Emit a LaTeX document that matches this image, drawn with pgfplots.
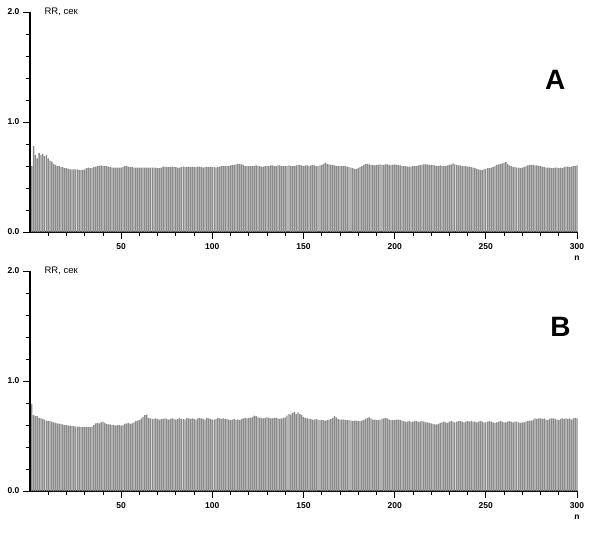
\documentclass[border=0pt]{standalone}
\usepackage{fontspec}
\setmainfont{Liberation Sans}
\usepackage{pgfplots}
\usepackage{pgfplotstable}
\pgfplotsset{compat=1.18}

% RR intervals, one value per beat, n = 1..300
\pgfplotstableread[row sep=\\]{rr\\
0.60\\ 0.78\\ 0.70\\ 0.67\\ 0.72\\ 0.70\\ 0.71\\ 0.69\\ 0.70\\ 0.67\\
0.65\\ 0.64\\ 0.62\\ 0.61\\ 0.60\\ 0.60\\ 0.59\\ 0.59\\ 0.58\\ 0.58\\
0.575\\ 0.57\\ 0.57\\ 0.57\\ 0.57\\ 0.57\\ 0.565\\ 0.565\\ 0.565\\ 0.57\\
0.58\\ 0.585\\ 0.58\\ 0.58\\ 0.59\\ 0.595\\ 0.60\\ 0.60\\ 0.605\\ 0.60\\
0.60\\ 0.60\\ 0.595\\ 0.59\\ 0.585\\ 0.585\\ 0.585\\ 0.585\\ 0.585\\ 0.585\\
0.59\\ 0.60\\ 0.60\\ 0.595\\ 0.59\\ 0.59\\ 0.585\\ 0.585\\ 0.585\\ 0.585\\
0.585\\ 0.585\\ 0.585\\ 0.585\\ 0.585\\ 0.585\\ 0.585\\ 0.585\\ 0.585\\ 0.58\\
0.58\\ 0.585\\ 0.595\\ 0.595\\ 0.59\\ 0.59\\ 0.59\\ 0.595\\ 0.59\\ 0.59\\
0.585\\ 0.585\\ 0.59\\ 0.595\\ 0.59\\ 0.59\\ 0.595\\ 0.59\\ 0.595\\ 0.59\\
0.59\\ 0.595\\ 0.595\\ 0.59\\ 0.585\\ 0.59\\ 0.59\\ 0.59\\ 0.595\\ 0.59\\
0.59\\ 0.585\\ 0.59\\ 0.595\\ 0.60\\ 0.60\\ 0.60\\ 0.60\\ 0.60\\ 0.605\\
0.61\\ 0.61\\ 0.615\\ 0.62\\ 0.62\\ 0.615\\ 0.61\\ 0.60\\ 0.60\\ 0.60\\
0.60\\ 0.60\\ 0.60\\ 0.605\\ 0.60\\ 0.60\\ 0.595\\ 0.595\\ 0.60\\ 0.60\\
0.60\\ 0.605\\ 0.605\\ 0.60\\ 0.60\\ 0.605\\ 0.605\\ 0.60\\ 0.60\\ 0.60\\
0.60\\ 0.605\\ 0.60\\ 0.60\\ 0.60\\ 0.605\\ 0.61\\ 0.61\\ 0.605\\ 0.60\\
0.605\\ 0.605\\ 0.60\\ 0.605\\ 0.61\\ 0.605\\ 0.60\\ 0.60\\ 0.605\\ 0.61\\
0.62\\ 0.63\\ 0.62\\ 0.615\\ 0.61\\ 0.61\\ 0.605\\ 0.60\\ 0.60\\ 0.60\\
0.60\\ 0.60\\ 0.60\\ 0.595\\ 0.59\\ 0.585\\ 0.58\\ 0.575\\ 0.575\\ 0.58\\
0.59\\ 0.60\\ 0.61\\ 0.62\\ 0.62\\ 0.615\\ 0.61\\ 0.61\\ 0.605\\ 0.61\\
0.61\\ 0.615\\ 0.61\\ 0.61\\ 0.615\\ 0.615\\ 0.61\\ 0.61\\ 0.61\\ 0.615\\
0.61\\ 0.61\\ 0.605\\ 0.60\\ 0.60\\ 0.60\\ 0.595\\ 0.595\\ 0.595\\ 0.60\\
0.60\\ 0.60\\ 0.605\\ 0.61\\ 0.61\\ 0.615\\ 0.615\\ 0.615\\ 0.61\\ 0.61\\
0.61\\ 0.605\\ 0.60\\ 0.60\\ 0.605\\ 0.60\\ 0.60\\ 0.60\\ 0.605\\ 0.61\\
0.615\\ 0.625\\ 0.615\\ 0.61\\ 0.605\\ 0.605\\ 0.60\\ 0.60\\ 0.60\\ 0.595\\
0.595\\ 0.59\\ 0.585\\ 0.58\\ 0.575\\ 0.57\\ 0.565\\ 0.565\\ 0.57\\ 0.575\\
0.58\\ 0.58\\ 0.585\\ 0.59\\ 0.60\\ 0.61\\ 0.615\\ 0.62\\ 0.625\\ 0.63\\
0.635\\ 0.62\\ 0.605\\ 0.60\\ 0.59\\ 0.59\\ 0.585\\ 0.585\\ 0.58\\ 0.585\\
0.59\\ 0.60\\ 0.605\\ 0.61\\ 0.61\\ 0.61\\ 0.605\\ 0.605\\ 0.60\\ 0.60\\
0.595\\ 0.59\\ 0.585\\ 0.585\\ 0.585\\ 0.58\\ 0.58\\ 0.585\\ 0.585\\ 0.58\\
0.585\\ 0.58\\ 0.59\\ 0.595\\ 0.595\\ 0.59\\ 0.595\\ 0.60\\ 0.60\\ 0.605\\
}\dataA

\pgfplotstableread[row sep=\\]{rr\\
0.79\\ 0.69\\ 0.68\\ 0.68\\ 0.665\\ 0.66\\ 0.655\\ 0.65\\ 0.64\\ 0.635\\
0.635\\ 0.63\\ 0.625\\ 0.62\\ 0.615\\ 0.61\\ 0.61\\ 0.605\\ 0.60\\ 0.60\\
0.595\\ 0.595\\ 0.59\\ 0.59\\ 0.585\\ 0.585\\ 0.585\\ 0.58\\ 0.58\\ 0.58\\
0.58\\ 0.58\\ 0.58\\ 0.585\\ 0.60\\ 0.615\\ 0.62\\ 0.615\\ 0.625\\ 0.63\\
0.62\\ 0.61\\ 0.605\\ 0.605\\ 0.60\\ 0.60\\ 0.595\\ 0.60\\ 0.60\\ 0.595\\
0.60\\ 0.61\\ 0.615\\ 0.62\\ 0.61\\ 0.615\\ 0.625\\ 0.635\\ 0.64\\ 0.645\\
0.66\\ 0.675\\ 0.69\\ 0.695\\ 0.665\\ 0.66\\ 0.655\\ 0.655\\ 0.66\\ 0.655\\
0.65\\ 0.655\\ 0.655\\ 0.66\\ 0.655\\ 0.65\\ 0.655\\ 0.66\\ 0.655\\ 0.65\\
0.655\\ 0.665\\ 0.655\\ 0.655\\ 0.65\\ 0.665\\ 0.66\\ 0.655\\ 0.66\\ 0.655\\
0.65\\ 0.66\\ 0.665\\ 0.66\\ 0.655\\ 0.65\\ 0.665\\ 0.66\\ 0.655\\ 0.65\\
0.65\\ 0.655\\ 0.665\\ 0.66\\ 0.655\\ 0.66\\ 0.655\\ 0.655\\ 0.65\\ 0.645\\
0.65\\ 0.655\\ 0.645\\ 0.65\\ 0.645\\ 0.655\\ 0.66\\ 0.665\\ 0.66\\ 0.665\\
0.665\\ 0.675\\ 0.685\\ 0.68\\ 0.67\\ 0.665\\ 0.665\\ 0.66\\ 0.665\\ 0.67\\
0.665\\ 0.66\\ 0.66\\ 0.665\\ 0.665\\ 0.66\\ 0.655\\ 0.66\\ 0.665\\ 0.67\\
0.685\\ 0.70\\ 0.695\\ 0.71\\ 0.72\\ 0.70\\ 0.715\\ 0.70\\ 0.69\\ 0.675\\
0.665\\ 0.66\\ 0.655\\ 0.655\\ 0.65\\ 0.65\\ 0.655\\ 0.65\\ 0.645\\ 0.645\\
0.645\\ 0.64\\ 0.645\\ 0.65\\ 0.655\\ 0.665\\ 0.68\\ 0.67\\ 0.655\\ 0.65\\
0.65\\ 0.65\\ 0.645\\ 0.645\\ 0.645\\ 0.64\\ 0.635\\ 0.64\\ 0.64\\ 0.635\\
0.635\\ 0.64\\ 0.645\\ 0.655\\ 0.665\\ 0.67\\ 0.66\\ 0.65\\ 0.65\\ 0.645\\
0.645\\ 0.65\\ 0.655\\ 0.66\\ 0.665\\ 0.66\\ 0.65\\ 0.645\\ 0.645\\ 0.645\\
0.65\\ 0.65\\ 0.645\\ 0.64\\ 0.635\\ 0.63\\ 0.63\\ 0.635\\ 0.63\\ 0.63\\
0.635\\ 0.635\\ 0.63\\ 0.63\\ 0.635\\ 0.63\\ 0.625\\ 0.625\\ 0.62\\ 0.615\\
0.61\\ 0.605\\ 0.605\\ 0.61\\ 0.62\\ 0.625\\ 0.63\\ 0.625\\ 0.62\\ 0.63\\
0.635\\ 0.63\\ 0.625\\ 0.63\\ 0.635\\ 0.635\\ 0.63\\ 0.625\\ 0.63\\ 0.635\\
0.63\\ 0.635\\ 0.63\\ 0.63\\ 0.625\\ 0.63\\ 0.635\\ 0.63\\ 0.625\\ 0.625\\
0.63\\ 0.635\\ 0.63\\ 0.625\\ 0.62\\ 0.625\\ 0.63\\ 0.635\\ 0.63\\ 0.625\\
0.625\\ 0.63\\ 0.635\\ 0.63\\ 0.625\\ 0.63\\ 0.63\\ 0.625\\ 0.62\\ 0.625\\
0.625\\ 0.63\\ 0.635\\ 0.64\\ 0.64\\ 0.65\\ 0.66\\ 0.655\\ 0.66\\ 0.66\\
0.655\\ 0.66\\ 0.65\\ 0.645\\ 0.655\\ 0.66\\ 0.66\\ 0.655\\ 0.65\\ 0.645\\
0.655\\ 0.66\\ 0.655\\ 0.66\\ 0.655\\ 0.66\\ 0.65\\ 0.66\\ 0.665\\ 0.66\\
}\dataB

\definecolor{bargray}{HTML}{8A8A8A}

\pgfplotsset{
  rhythmo/.style={
    scale only axis, width=547pt, height=220pt,
    anchor=south west,
    xmin=0, xmax=300, ymin=0, ymax=2,
    axis lines=left,
    axis line style={-, line width=1.3pt, black},
    xtick={50,100,...,300},
    minor xtick={10,20,...,290},
    ytick={0,1,2}, yticklabels={0.0,1.0,2.0},
    minor ytick={0.2,0.4,...,1.8},
    tick align=outside,
    major tick length=7pt, minor tick length=4pt,
    tick style={black, line width=0.8pt},
    tick label style={font=\fontsize{8.5}{9}\selectfont\bfseries},
    xticklabel style={yshift=-1pt},
    /pgf/number format/assume math mode=true,
    clip=false,
  },
  rrbars/.style={ybar, bar width=0.72, fill=bargray, draw=none},
}

\begin{document}
\begin{tikzpicture}
\path[use as bounding box] (0pt,0pt) rectangle (604pt,-541pt);

\begin{axis}[rhythmo, at={(30pt,-232pt)}]
  \addplot[rrbars] table[x expr=\coordindex+1, y=rr] {\dataA};
  \node[anchor=west, font=\fontsize{9.5}{11}\selectfont] at ([xshift=11pt]rel axis cs:0,1) {RR, сек};
  \node[font=\fontsize{8.5}{9}\selectfont\bfseries] at ([yshift=-26pt]axis cs:300,0) {n};
  \node[font=\fontsize{28}{28}\selectfont\bfseries] at (axis cs:288,1.38) {A};
\end{axis}

\begin{axis}[rhythmo, at={(30pt,-491pt)}]
  \addplot[rrbars] table[x expr=\coordindex+1, y=rr] {\dataB};
  \node[anchor=west, font=\fontsize{9.5}{11}\selectfont] at ([xshift=11pt]rel axis cs:0,1) {RR, сек};
  \node[font=\fontsize{8.5}{9}\selectfont\bfseries] at ([yshift=-26pt]axis cs:300,0) {n};
  \node[font=\fontsize{28}{28}\selectfont\bfseries] at (axis cs:291,1.49) {B};
\end{axis}
\end{tikzpicture}
\end{document}
